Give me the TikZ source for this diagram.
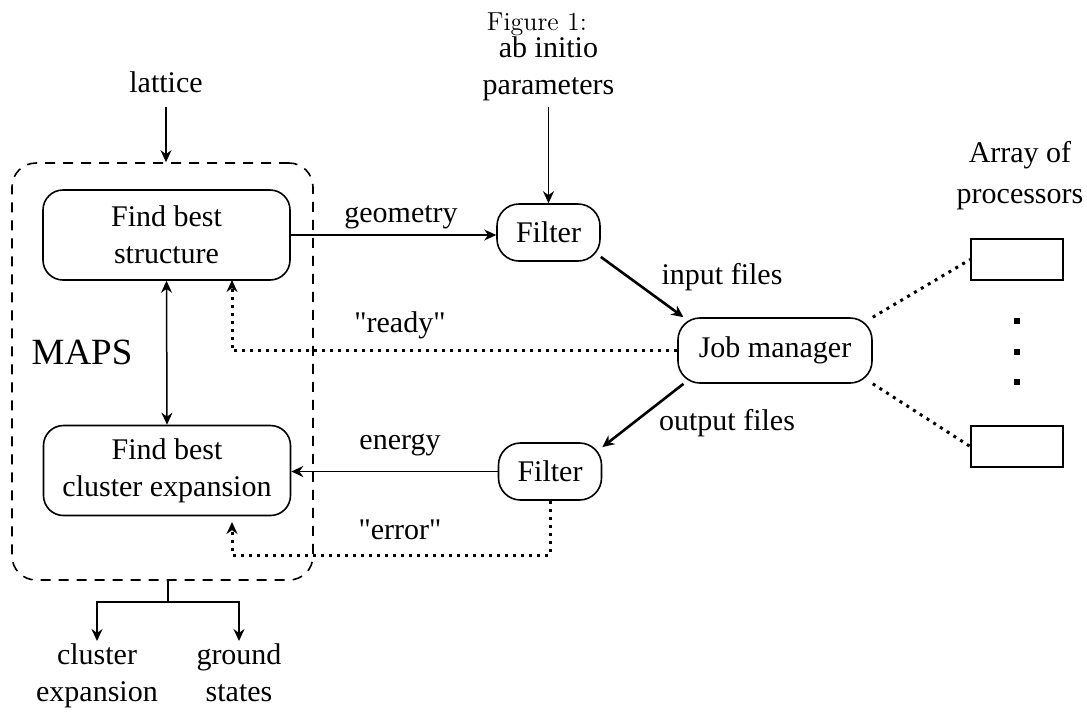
\documentclass[tikz,border=0pt]{standalone}
\usepackage{fontspec}
\newfontfamily\dfont[Ligatures=TeXOff]{Liberation Serif}
\usetikzlibrary{arrows.meta,positioning}

\begin{document}
\begin{tikzpicture}[x=0.5pt,y=-0.5pt]
			\tikzstyle{Txt}		= [font=\dfont\fontsize{15}{18.5}\selectfont, align=center, inner sep=1pt]
			\tikzstyle{Box}		= [Txt, draw, line width=0.8pt, rounded corners=10pt]
			\tikzstyle{Stage}	= [Box, minimum width=123.5pt, minimum height=45pt]
			\tikzstyle{Filt}	= [Box, minimum width=51.5pt, minimum height=28.5pt, rounded corners=11pt]
			\tikzstyle{Manager}	= [Box, minimum width=97pt, minimum height=32.5pt, rounded corners=11pt]
			\tikzstyle{Proc}	= [draw, line width=0.8pt, minimum width=46pt, minimum height=20.5pt, inner sep=0pt]
			\tikzstyle{Dot}		= [fill, minimum size=3pt, inner sep=0pt]
			\tikzstyle{Flow}	= [-{Stealth[length=6pt,width=5.5pt]}, line width=0.75pt]
			\tikzstyle{Heavy}	= [Flow, line width=1.3pt]
			\tikzstyle{Dots}	= [line width=1.5pt, dash pattern=on 1.5pt off 2.5pt]
			\tikzstyle{Signal}	= [Dots, -{Stealth[length=6pt,width=5.5pt]}]

			\useasboundingbox (0,0) rectangle (1087,713);

			\node (fig) at (537,24) [font=\fontsize{13}{15}\selectfont] {Figure 1:};

			% MAPS block
			\node (maps) at (162.5,371.5) [draw, line width=0.8pt, dash pattern=on 5pt off 4pt, rounded corners=12pt, minimum width=150.5pt, minimum height=208.5pt] {};
			\node (mapslabel) at (82,352) [Txt, font=\dfont\fontsize{18.5}{20}\selectfont] {MAPS};
			\node (b1) at (166.5,235) [Stage] {Find best\\structure};
			\node (b2) at (167,470.5) [Stage] {Find best\\cluster expansion};

			% inputs and outputs
			\node (lattice) at (166,82) [Txt] {lattice};
			\node (abinitio) at (548.5,68.5) [Txt] {ab initio\\parameters};
			\node (ce) at (97,641) [Txt, anchor=north] {cluster\\expansion};
			\node (gs) at (239,641) [Txt, anchor=north] {ground\\states};

			% filters and job manager
			\node (f1) at (548.5,232.5) [Filt] {Filter};
			\node (f2) at (550,471.5) [Filt] {Filter};
			\node (job) at (775,350.5) [Manager] {Job manager};

			% processors
			\node (array) at (1020,176) [Txt] {Array of\\[2pt]processors};
			\foreach \n/\y in {1/259.5, 2/446.5}
				\node (p\n) at (1017,\y) [Proc] {};
			\foreach \y in {321, 352, 382}
				\node (d\y) at (1017,\y) [Dot] {};

			% edge labels
			\foreach \name/\x/\y/\t in {geo/401/217/geometry, rdy/400/325/"ready", en/400/445/energy, err/400/530/"error", in/722/277/input files, out/727/423/output files}
				\node (l\name) at (\x,\y) [Txt] {\t};

			\coordinate (rdyend) at (232,280);
			\coordinate (errturn) at (232,555);
			\coordinate (errend) at (232,522);
			\coordinate (split) at (168,602);

			\draw [Flow, shorten <=6pt] (lattice.south) -- (maps.north -| lattice);
			\draw [Flow, shorten <=2pt] (abinitio.south) -- (f1.north);
			\draw [Flow] (b1.east) -- (b1.east -| f1.west);
			\draw [Heavy] (f1.-25) -- (job.160);
			\draw [Heavy] (job.200) -- (f2.25);
			\draw [Flow] (f2.west) -- (f2.west -| b2.east);
			\draw [Flow, {Stealth[length=6pt,width=5.5pt]}-{Stealth[length=6pt,width=5.5pt]}] (b1.south) -- (b2.north);
			\draw [Signal] (job.west) -| (rdyend);
			\draw [Signal] (f2.south) |- (errturn) -- (errend);
			\foreach \a/\b in {job.north east/p1.west, job.south east/p2.west}
				\draw [Dots] (\a) -- (\b);
			\draw [line width=0.75pt] (maps.south -| split) -- (split);
			\foreach \t in {ce, gs}
				\draw [Flow] (split) -| (\t.north);
\end{tikzpicture}
\end{document}
